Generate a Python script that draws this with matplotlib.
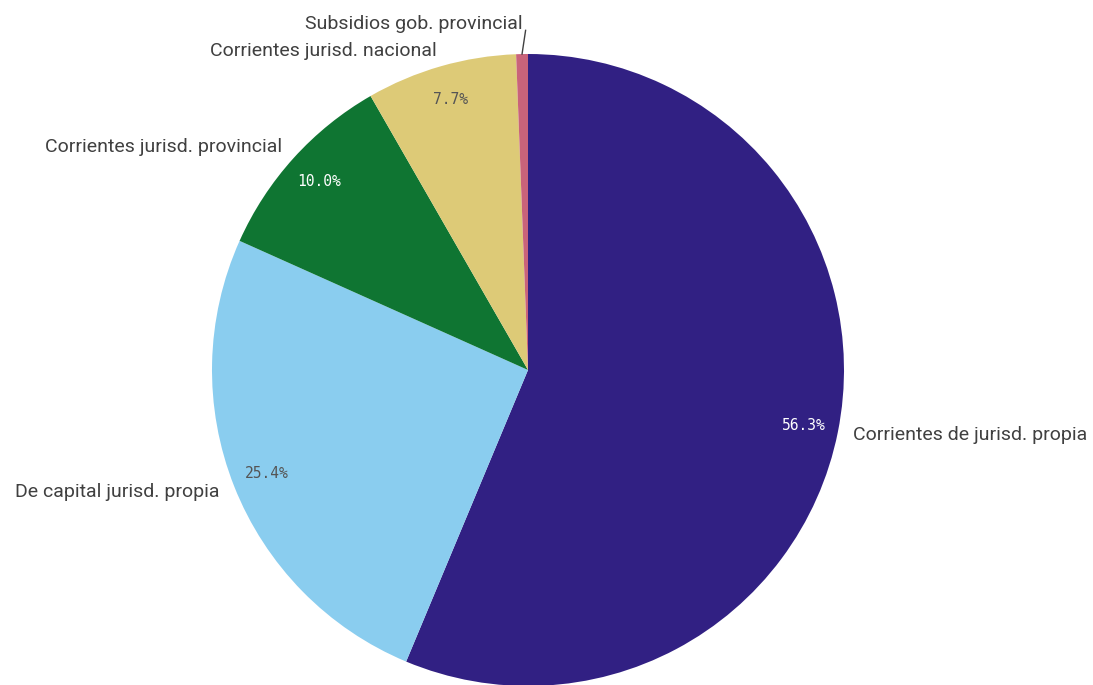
import numpy as np
import matplotlib.pyplot as plt

categories = ['Corrientes de jurisd. propia', 'De capital jurisd. propia',
              'Corrientes jurisd. provincial', 'Corrientes jurisd. nacional',
              'Subsidios gob. provincial']
shares = [56.3, 25.4, 10.0, 7.7, 0.6]
pct_labels = ['56.3%', '25.4%', '10.0%', '7.7%', '']
colors = ['#312083', '#8acdef', '#0f7532', '#ddca77', '#c9637a']
pct_colors = ['white', '#555555', 'white', '#555555', 'white']

W, H = 1093, 685
fig = plt.figure(figsize=(W / 100, H / 100), dpi=100)
ax = fig.add_axes([0, 0, 1, 1])
ax.axis('off')

cx, cy, r = 528, H - 370, 316
wedges, _ = ax.pie(shares, colors=colors, startangle=90, counterclock=False,
                   center=(cx, cy), radius=r,
                   wedgeprops=dict(linewidth=0))
ax.set_xlim(0, W)
ax.set_ylim(0, H)
ax.set_aspect('equal')

lab_kw = dict(fontsize=14, color='#404040', family='Roboto')
for w, cat, pct, pc in zip(wedges, categories, pct_labels, pct_colors):
    mid = np.deg2rad((w.theta1 + w.theta2) / 2)
    c, s = np.cos(mid), np.sin(mid)
    if pct:
        ax.text(cx + 0.89 * r * c, cy + 0.89 * r * s, pct, color=pc,
                ha='center', va='center', fontsize=10.5,
                family='DejaVu Sans Mono')
    if cat.startswith('Subsidios'):
        # tiny slice: short leader line up to the label
        x0, y0 = cx + 1.0 * r * c, cy + 1.0 * r * s
        x1, y1 = cx + 1.075 * r * c + 4, cy + 1.075 * r * s
        ax.plot([x0, x1], [y0, y1], color='#404040', lw=1)
        ax.text(x1 - 3, y1 + 6, cat, ha='right', va='center', **lab_kw)
    else:
        ha = 'left' if c > 0 else 'right'
        ax.text(cx + 1.05 * r * c, cy + 1.05 * r * s, cat, ha=ha,
                va='center', **lab_kw)

fig.savefig('out.png', dpi=100)
